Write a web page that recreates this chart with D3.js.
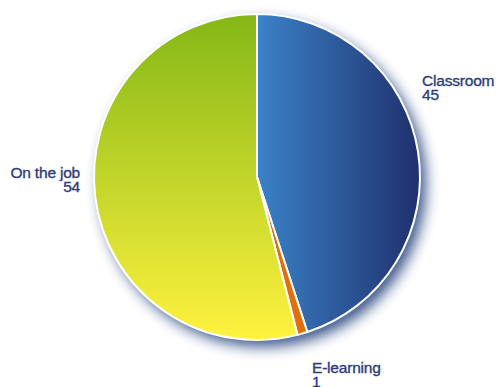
<!DOCTYPE html>
<html>
<head>
<meta charset="utf-8">
<script src="https://cdn.jsdelivr.net/npm/d3@7"></script>
<style>
  html, body { margin: 0; padding: 0; background: #fff; }
  svg { display: block; }
  .lbl { font-family: "Liberation Sans", Arial, sans-serif; font-size: 15.5px; fill: #2a3c7c;
         stroke: #2a3c7c; stroke-width: 0.35px; letter-spacing: -0.2px; }
</style>
</head>
<body>
<svg id="chart" width="497" height="387"></svg>
<script>
// Training delivery mix (share of total, %)
const categories = ["Classroom", "E-learning", "On the job"];
const values = [45, 1, 54];

const width = 497, height = 387;
const cx = 257, cy = 177, radius = 163;

const svg = d3.select("#chart");
const defs = svg.append("defs");

// Soft drop shadow under the pie
const shadow = defs.append("filter").attr("id", "pieShadow")
  .attr("x", "-20%").attr("y", "-20%").attr("width", "140%").attr("height", "140%");
shadow.append("feGaussianBlur").attr("stdDeviation", 7);

// Gradients are in the pie group's coordinates (origin at the centre)
// Classroom: light blue to navy, left to right
const gBlue = defs.append("linearGradient").attr("id", "gradClassroom")
  .attr("gradientUnits", "userSpaceOnUse")
  .attr("x1", 0).attr("y1", 0).attr("x2", radius).attr("y2", 0);
gBlue.append("stop").attr("offset", "0%").attr("stop-color", "#3b82c8");
gBlue.append("stop").attr("offset", "100%").attr("stop-color", "#1f306d");

// On the job: green at the top, yellow at the bottom
const gGreen = defs.append("linearGradient").attr("id", "gradJob")
  .attr("gradientUnits", "userSpaceOnUse")
  .attr("x1", 0).attr("y1", -radius).attr("x2", 0).attr("y2", radius);
gGreen.append("stop").attr("offset", "0%").attr("stop-color", "#84b716");
gGreen.append("stop").attr("offset", "100%").attr("stop-color", "#fff23e");

const fills = d3.scaleOrdinal()
  .domain(categories)
  .range(["url(#gradClassroom)", "#e0700e", "url(#gradJob)"]);

const pie = d3.pie().sort(null).value(d => d.value);
const arcs = pie(categories.map((c, i) => ({ name: c, value: values[i] })));
const arc = d3.arc().innerRadius(0).outerRadius(radius);

svg.append("circle")
  .attr("cx", cx + 6).attr("cy", cy + 7).attr("r", radius)
  .attr("fill", "#1d3a78").attr("opacity", 0.85)
  .attr("filter", "url(#pieShadow)");

const g = svg.append("g").attr("transform", `translate(${cx},${cy})`);

g.selectAll("path.slice")
  .data(arcs)
  .join("path")
  .attr("class", "slice")
  .attr("d", arc)
  .attr("fill", d => fills(d.data.name))
  .attr("stroke", "#fff")
  .attr("stroke-width", 2)
  .attr("stroke-linejoin", "round");

// Category labels with values
const labels = [
  { name: "Classroom", x: 422, y: 85.5, anchor: "start" },
  { name: "On the job", x: 80, y: 178, anchor: "end" },
  { name: "E-learning", x: 312, y: 373, anchor: "start" }
];
const lineGap = 14;

labels.forEach(l => {
  const v = values[categories.indexOf(l.name)];
  const t = svg.append("text").attr("class", "lbl").attr("text-anchor", l.anchor);
  t.append("tspan").attr("x", l.x).attr("y", l.y).text(l.name);
  t.append("tspan").attr("x", l.x).attr("y", l.y + lineGap).text(v);
});
</script>
</body>
</html>
